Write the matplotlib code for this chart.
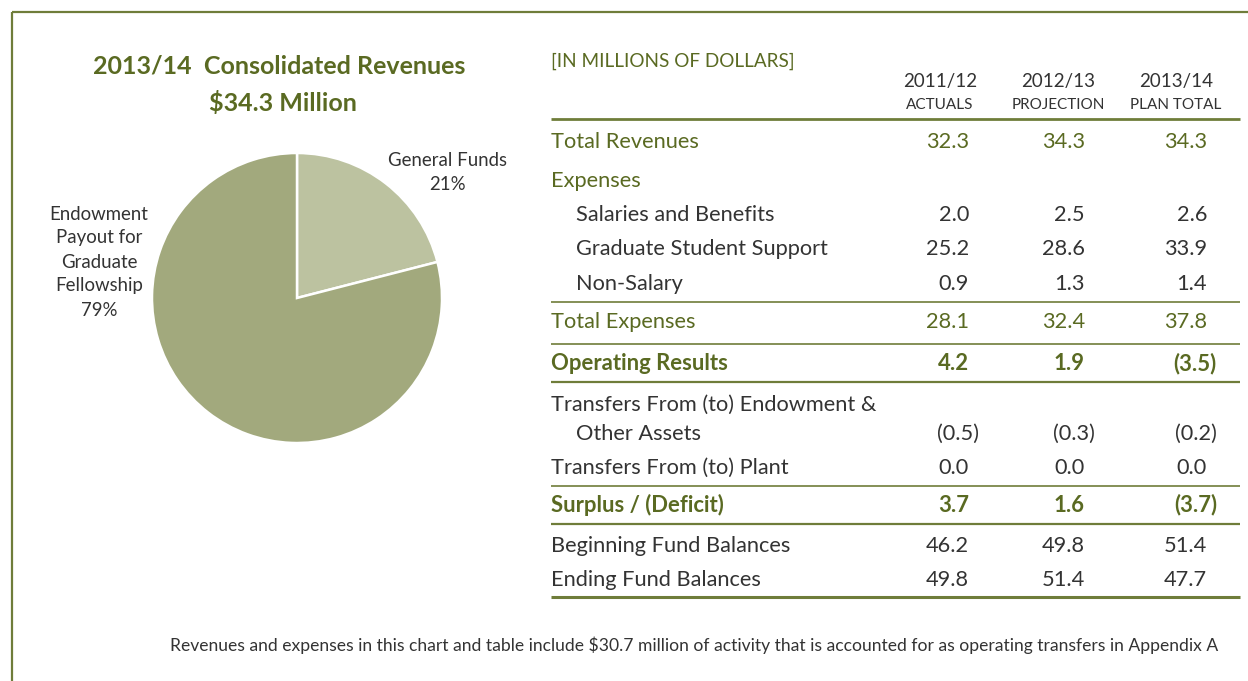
import matplotlib.pyplot as plt

plt.rcParams['font.family'] = ['Lato', 'DejaVu Sans']

# pie data
pie_labels = ["General Funds", "Endowment\nPayout for\nGraduate\nFellowship"]
pie_shares = [21, 79]
pie_colors = ["#bcc2a0", "#a2a97d"]

# table data
col_years = ["2011/12", "2012/13", "2013/14"]
col_kinds = ["ACTUALS", "PROJECTION", "PLAN TOTAL"]

row_names = ["Total Revenues", "Expenses", "Salaries and Benefits",
             "Graduate Student Support", "Non-Salary", "Total Expenses",
             "Operating Results", "Transfers From (to) Endowment &",
             "Other Assets", "Transfers From (to) Plant",
             "Surplus / (Deficit)", "Beginning Fund Balances",
             "Ending Fund Balances"]
actuals_1112 = ["32.3", "", "2.0", "25.2", "0.9", "28.1", "4.2", "", "(0.5)",
                "0.0", "3.7", "46.2", "49.8"]
projection_1213 = ["34.3", "", "2.5", "28.6", "1.3", "32.4", "1.9", "", "(0.3)",
                   "0.0", "1.6", "49.8", "51.4"]
plan_1314 = ["34.3", "", "2.6", "33.9", "1.4", "37.8", "(3.5)", "", "(0.2)",
             "0.0", "(3.7)", "51.4", "47.7"]
row_style = ["green", "green", "indent", "indent", "indent", "green", "bold",
             "plain", "indent", "plain", "bold", "plain", "plain"]

green = "#5a6a22"
line_c = "#6f7d3a"
grey = "#333333"

fig = plt.figure(figsize=(12.48, 6.81), dpi=100)
bg = fig.add_axes([0, 0, 1, 1])
bg.set_xlim(0, 1248)
bg.set_ylim(681, 0)
bg.axis("off")

# frame
bg.plot([12, 1248], [12, 12], color=line_c, lw=1.6, solid_capstyle="butt")
bg.plot([12, 12], [12, 681], color=line_c, lw=1.6, solid_capstyle="butt")

# pie
cx, cy, r = 297, 298, 145
pax = fig.add_axes([(cx - r) / 1248, (681 - cy - r) / 681, 2 * r / 1248, 2 * r / 681])
pax.pie(pie_shares, colors=pie_colors, startangle=90, counterclock=False,
        wedgeprops=dict(edgecolor="white", linewidth=1.8))
pax.set_xlim(-1, 1)
pax.set_ylim(-1, 1)

bg.text(279, 66, "2013/14  Consolidated Revenues", ha="center", va="center",
        fontsize=18, fontweight="bold", color=green)
bg.text(283, 103, "$34.3 Million", ha="center", va="center",
        fontsize=18, fontweight="bold", color=green)

bg.text(447, 172, f"{pie_labels[0]}\n{pie_shares[0]}%", ha="center", va="center",
        fontsize=13.4, color=grey, linespacing=1.5)
bg.text(99, 262, f"{pie_labels[1]}\n{pie_shares[1]}%", ha="center", va="center",
        fontsize=13.4, color=grey, linespacing=1.5)

# table header
bg.text(551, 61, "[IN MILLIONS OF DOLLARS]", ha="left", va="center",
        fontsize=13.6, color=green)
col_x = [969, 1085, 1207]
col_c = [940, 1058, 1176]
for c, yr, kind in zip(col_c, col_years, col_kinds):
    bg.text(c, 82, yr, ha="center", va="center", fontsize=13.5, color=grey)
    bg.text(c, 105, kind, ha="center", va="center", fontsize=11, color=grey)

row_y = [142, 181, 215, 249, 284, 322, 364, 405, 434, 468, 505, 546, 580]
for y, name, style, vals in zip(row_y, row_names, row_style,
                                zip(actuals_1112, projection_1213, plan_1314)):
    color = green if style in ("green", "bold") else grey
    weight = "bold" if style == "bold" else "normal"
    x0 = 576 if style == "indent" else 551
    fs = 15.9 if style == "bold" else 15.7
    bg.text(x0, y, name, ha="left", va="center", fontsize=fs,
            color=color, fontweight=weight)
    for xr, v in zip(col_x, vals):
        if not v:
            continue
        dx = 10 if v.endswith(")") else 0
        bg.text(xr + dx, y, v, ha="right", va="center", fontsize=fs,
                color=color, fontweight=weight)

# rules
for y, lw in [(119, 2.0), (302, 1.2), (344, 1.2), (382, 1.6), (486, 1.2),
              (524, 1.6), (597, 2.2)]:
    bg.plot([551, 1240], [y, y], color=line_c, lw=lw, solid_capstyle="butt")

bg.text(1218, 645, "Revenues and expenses in this chart and table include $30.7 million "
        "of activity that is accounted for as operating transfers in Appendix A",
        ha="right", va="center", fontsize=12.6, color=grey)

fig.savefig("out.png", dpi=100)
